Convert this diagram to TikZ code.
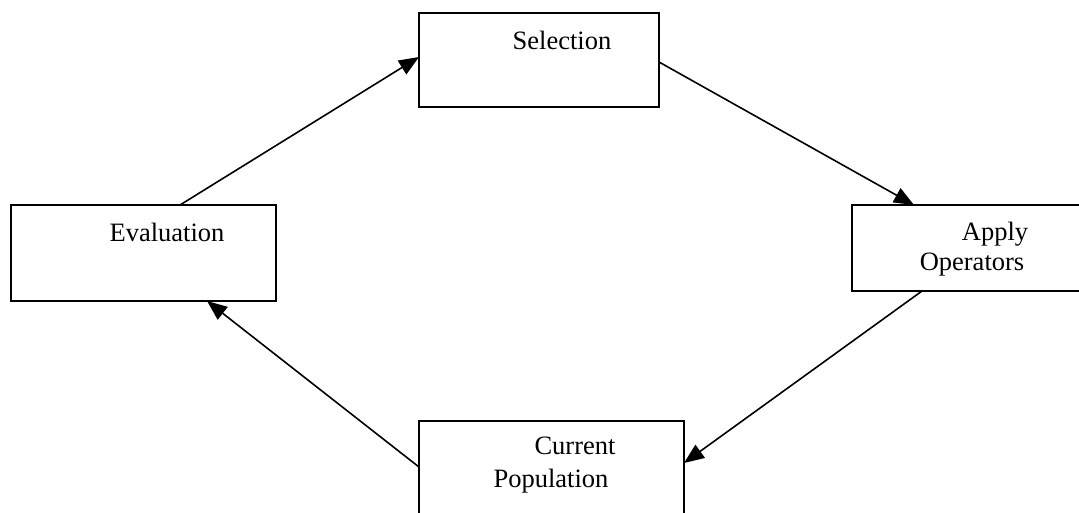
\documentclass[tikz,border=0pt]{standalone}
\usepackage{fontspec}
\setmainfont{Liberation Serif}
\usetikzlibrary{arrows.meta}
\begin{document}
\begin{tikzpicture}[x=1pt,y=-1pt,
  box/.style={draw,line width=2pt,minimum width=#1,inner sep=0pt,outer sep=0pt},
  lbl/.style={anchor=base,inner sep=0pt,font=\fontsize{26.5}{30}\selectfont},
  conn/.style={line width=1.6pt,-{Triangle[length=20pt,width=16pt]}}]
\useasboundingbox (0,0) rectangle (1079,512);
\clip (0,0) rectangle (1079,512);
\node[box=240pt,minimum height=94pt] (sel) at (539,60) {};
\node[box=238pt,minimum height=86pt] (app) at (971,248) {};
\node[box=265pt,minimum height=100pt] (pop) at (551.5,471) {};
\node[box=265pt,minimum height=96pt] (eva) at (143.5,253) {};
\node[lbl] (tsel) at (562,49) {Selection};
\node[lbl] (tapp1) at (995,240) {Apply};
\node[lbl] (tapp2) at (972,270) {Operators};
\node[lbl] (tpop1) at (575,454) {Current};
\node[lbl] (tpop2) at (551,487) {Population};
\node[lbl] (teva) at (167,241) {Evaluation};
\draw[conn] ([xshift=169pt]eva.north west) -- ([yshift=-44pt]sel.north west);
\draw[conn] ([yshift=-49pt]sel.north east) -- ([xshift=62pt]app.north west);
\draw[conn] ([xshift=70pt]app.south west) -- ([yshift=-42pt]pop.north east);
\draw[conn] ([yshift=-46pt]pop.north west) -- ([xshift=196pt]eva.south west);
\end{tikzpicture}
\end{document}
